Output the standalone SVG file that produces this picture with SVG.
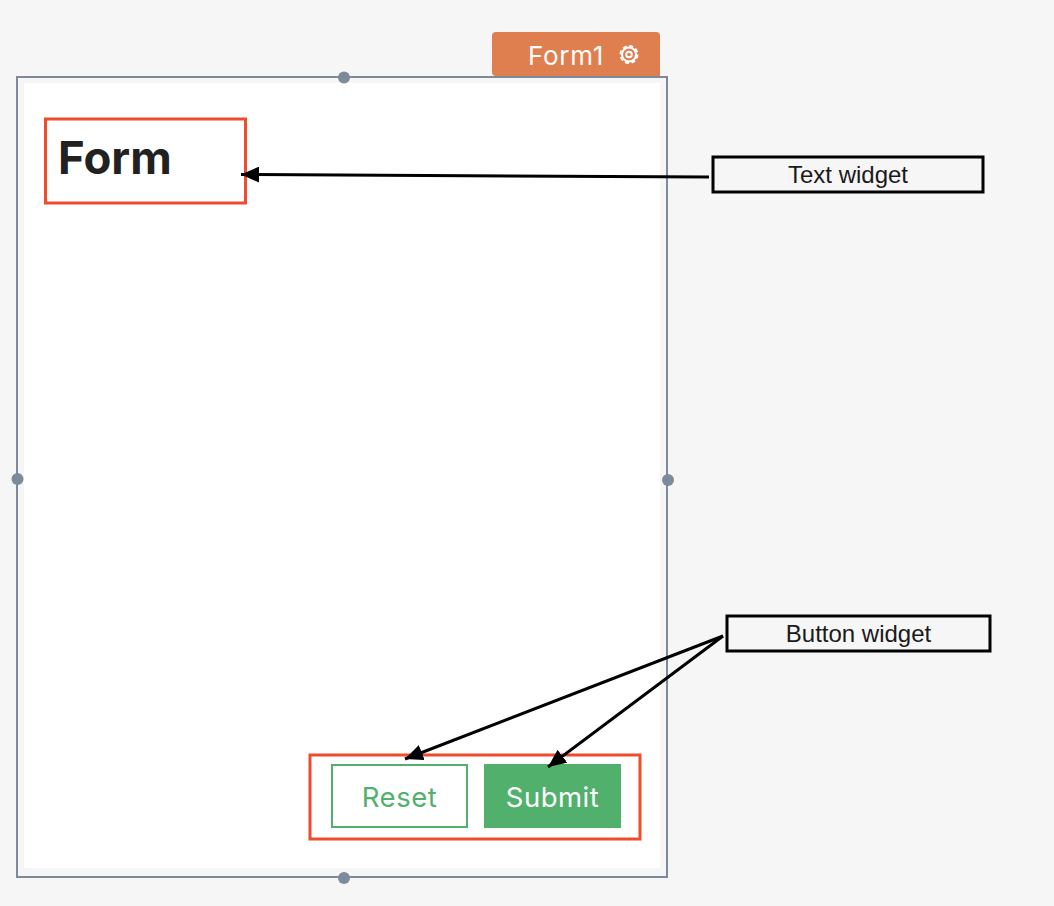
<svg xmlns="http://www.w3.org/2000/svg" width="1054" height="906" viewBox="0 0 1054 906">
<style>
.handle{fill:#7c8a9a}
.red{fill:none;stroke:#ee4c2c;stroke-width:3}
.callout{fill:none;stroke:#000;stroke-width:3}
.calltext{font-family:"Liberation Sans",Arial,sans-serif;font-size:24px;fill:#1a1a1a;text-anchor:middle}
.ui{font-family:Inter,"Noto Sans",sans-serif}
.conn{fill:none;stroke:#000;stroke-width:3}
</style>
<defs><marker id="arrow" markerUnits="userSpaceOnUse" markerWidth="20" markerHeight="16" refX="18" refY="8" orient="auto"><path d="M0,0L18,8L0,16Z" fill="#000"/></marker></defs>
<rect width="1054" height="906" fill="#f6f6f6"/>
<g id="form-container">
<rect x="17" y="77" width="650" height="800" fill="#f6f6f6" stroke="#7c8a9a" stroke-width="2"/>
<rect x="24" y="83" width="636" height="785" fill="#fff"/>
<circle class="handle" cx="344" cy="77.500" r="6"/><circle class="handle" cx="17.500" cy="479" r="6"/><circle class="handle" cx="668" cy="480" r="6"/><circle class="handle" cx="344" cy="878" r="6"/>
</g>
<g id="form-tab">
<path d="M496,32H656a4,4 0 0 1 4,4V76H496a4,4 0 0 1 -4,-4V36a4,4 0 0 1 4,-4Z" fill="#df7e4f"/>
<text class="ui" x="528" y="65" font-size="26" letter-spacing="0.700" fill="#fff">Form1</text>
<g fill="none" stroke="#fff"><circle cx="629" cy="54.500" r="2.800" stroke-width="2"/><circle cx="629" cy="54.500" r="7" stroke-width="2"/><circle cx="629" cy="54.500" r="8.500" stroke-width="2" stroke-dasharray="4 2.670"/></g>
</g>
<g id="text-widget">
<rect class="red" x="45.500" y="119" width="200" height="84"/>
<text class="ui" x="58" y="174" font-size="45.500" font-weight="700" fill="#212121">Form</text>
</g>
<g id="button-widget">
<rect class="red" x="310" y="755" width="330" height="84"/>
<rect id="reset" x="332" y="765" width="135" height="62" fill="#fff" stroke="#52b06d" stroke-width="2"/>
<text class="ui" x="399.500" y="807" font-size="27.500" letter-spacing="0.500" fill="#52b06d" text-anchor="middle">Reset</text>
<rect id="submit" x="484" y="764" width="137" height="64" fill="#52b06d"/>
<text class="ui" x="552.500" y="807" font-size="27.500" letter-spacing="0.500" fill="#fff" text-anchor="middle">Submit</text>
</g>
<g id="text-widget-label">
<rect class="callout" x="713" y="157" width="270" height="35"/>
<text class="calltext" x="848" y="183">Text widget</text>
</g>
<g id="button-widget-label">
<rect class="callout" x="727" y="616" width="263" height="35"/>
<text class="calltext" x="858.500" y="642">Button widget</text>
</g>
<g id="connectors">
<path class="conn" marker-end="url(#arrow)" d="M709,177L241,174.500"/>
<path class="conn" marker-end="url(#arrow)" d="M723,636L405,759"/>
<path class="conn" marker-end="url(#arrow)" d="M723,636L548,767"/>
</g>
</svg>
